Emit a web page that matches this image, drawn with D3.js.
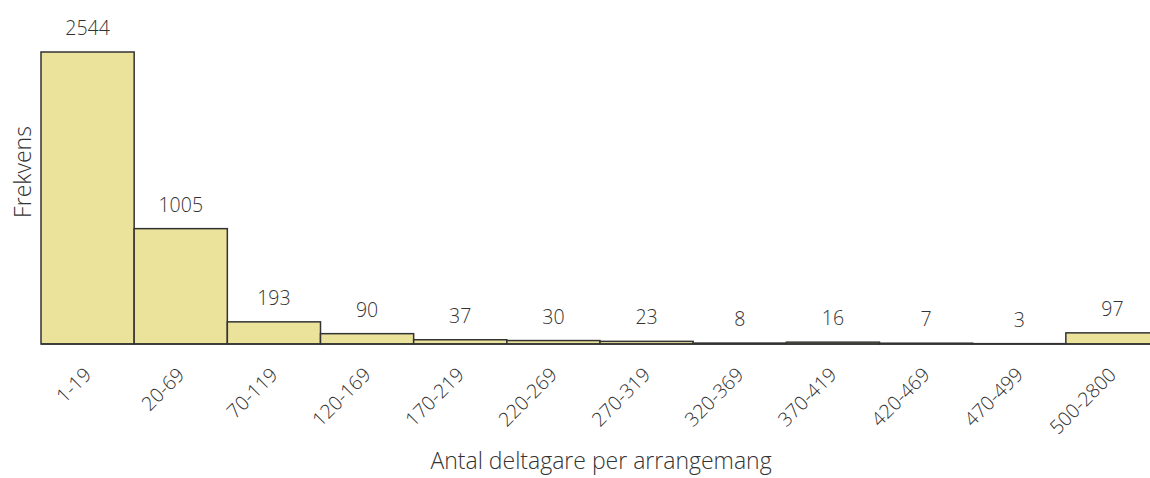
<!DOCTYPE html>
<html>
<head>
<meta charset="utf-8">
<script src="https://cdn.jsdelivr.net/npm/d3@7"></script>
<style>
  body { margin: 0; background: #fff; }
  text { font-family: "Open Sans", "Noto Sans", sans-serif; font-weight: 300; fill: #333; }
</style>
</head>
<body>
<svg id="chart"></svg>
<script>
const width = 1150;
const height = 478;

const categories = ["1-19", "20-69", "70-119", "120-169", "170-219", "220-269",
  "270-319", "320-369", "370-419", "420-469", "470-499", "500-2800"];
const counts = [2544, 1005, 193, 90, 37, 30, 23, 8, 16, 7, 3, 97];

// the last bar runs past the right edge in the original
const margin = { top: 52, right: -9, bottom: 134, left: 41 };

const svg = d3.select("#chart")
  .attr("width", width)
  .attr("height", height);

const x = d3.scaleBand()
  .domain(categories)
  .range([margin.left, width - margin.right])
  .padding(0);

const y = d3.scaleLinear()
  .domain([0, 2544])
  .range([height - margin.bottom, margin.top]);

// bars
svg.selectAll("rect.bar")
  .data(counts)
  .enter().append("rect")
  .attr("class", "bar")
  .attr("x", (d, i) => x(categories[i]))
  .attr("y", d => y(d))
  .attr("width", x.bandwidth())
  .attr("height", d => y(0) - y(d))
  .attr("fill", "#ebe29b")
  .attr("stroke", "#333")
  .attr("stroke-width", 1.5);

// value labels
svg.selectAll("text.val")
  .data(counts)
  .enter().append("text")
  .attr("class", "val")
  .attr("x", (d, i) => x(categories[i]) + x.bandwidth() / 2)
  .attr("y", d => y(d) - 17)
  .attr("text-anchor", "middle")
  .attr("font-size", 19.5)
  .text(d => d);

// x axis baseline
svg.append("line")
  .attr("x1", margin.left).attr("x2", width - margin.right)
  .attr("y1", y(0)).attr("y2", y(0))
  .attr("stroke", "#333").attr("stroke-width", 1.5);

// tick labels
svg.selectAll("text.tick")
  .data(categories)
  .enter().append("text")
  .attr("class", "tick")
  .attr("text-anchor", "end")
  .attr("font-size", 19.5)
  .attr("transform", d => `translate(${x(d) + x.bandwidth() / 2 + 5},${y(0) + 32}) rotate(-45)`)
  .text(d => d);

// axis titles
svg.append("text")
  .attr("text-anchor", "middle")
  .attr("font-size", 23)
  .attr("transform", `translate(31,172) rotate(-90)`)
  .text("Frekvens");

svg.append("text")
  .attr("text-anchor", "middle")
  .attr("font-size", 23)
  .attr("x", 601)
  .attr("y", 469)
  .text("Antal deltagare per arrangemang");
</script>
</body>
</html>
